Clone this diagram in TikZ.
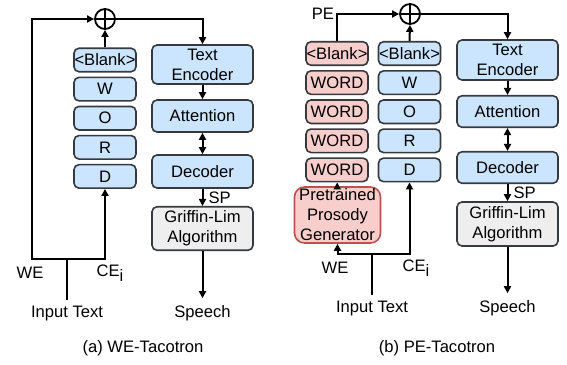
\documentclass[tikz,border=0pt]{standalone}
\usepackage{fontspec}
\setmainfont{Liberation Sans}
\usetikzlibrary{positioning,arrows.meta}
\definecolor{boxblue}{HTML}{CCE5FF}
\definecolor{boxred}{HTML}{F8CECC}
\definecolor{boxgray}{HTML}{EEEEEE}
\definecolor{boxline}{HTML}{36393D}
\definecolor{genline}{HTML}{B85450}
\tikzset{
  box/.style={draw=boxline, line width=0.8pt, rounded corners=2.5pt, align=center, inner sep=0pt},
  tok/.style={box, fill=boxblue, minimum width=31pt, minimum height=11.75pt},
  wtok/.style={box, fill=boxred, minimum width=31pt, minimum height=11.75pt},
  blk/.style={box, fill=boxblue, minimum width=50.5pt},
  gla/.style={box, fill=boxgray, minimum width=50.5pt, minimum height=21.75pt},
  plus/.style={circle, draw, line width=0.9pt, minimum size=10pt, inner sep=0pt,
    path picture={\draw[line width=0.9pt] (path picture bounding box.north) -- (path picture bounding box.south)
      (path picture bounding box.west) -- (path picture bounding box.east);}},
  arr/.style={-{Triangle[length=3.5pt,width=3.5pt]}, line width=1pt},
  darr/.style={{Triangle[length=3.5pt,width=3.5pt]}-{Triangle[length=3.5pt,width=3.5pt]}, line width=1pt},
  lbl/.style={inner sep=1pt}
}
\newcommand{\cei}{CE\raisebox{-2.5pt}{i}}
\begin{document}
\begin{tikzpicture}[x=0.5pt, y=0.5pt, font=\fontsize{8.3}{10}\selectfont]
\useasboundingbox (0,0) rectangle (567,-364);
% (a) WE-Tacotron
\node [plus] (plusa) at (105,-19) {};
\node [tok] (blanka) at (105,-60) {<Blank>};
\node [tok, below=2pt of blanka] (wa) {W};
\node [tok, below=2pt of wa] (oa) {O};
\node [tok, below=2pt of oa] (ra) {R};
\node [tok, below=2pt of ra] (da) {D};
\node [blk, minimum height=19.5pt] (tea) at (202.5,-64.5) {Text\\Encoder};
\node [blk, minimum height=16pt] (atta) at (202.5,-116) {Attention};
\node [blk, minimum height=16.5pt] (deca) at (202.5,-171.5) {Decoder};
\node [gla] (gla) at (202.5,-228.5) {Griffin-Lim\\Algorithm};
\node (speecha) at (202.5,-313) {Speech};
\node (inputa) at (67,-314) {Input Text};
\node [lbl] (wea) at (30,-273) {WE};
\node [lbl] (cea) at (110,-273) {\cei};
\node (capa) at (143,-348) {(a) WE-Tacotron};
\coordinate (ja) at (67,-259);
\coordinate (cornera) at (32,-259);
\draw[line width=1pt] (ja) -- (inputa.north);
\draw[arr] (ja) -- (cornera) |- (plusa.west);
\draw[arr] (ja) -| (da.south);
\draw[arr] (blanka.north) -- (plusa.south);
\draw[arr] (plusa.east) -| (tea.north);
\draw[arr] (tea) -- (atta);
\draw[darr] (atta) -- (deca);
\draw[arr] (deca) -- node[right, lbl, inner xsep=2.5pt]{SP} (gla);
\draw[arr] (gla) -- (speecha);
% (b) PE-Tacotron
\node [plus] (plusb) at (410,-14) {};
\node [wtok] (rblank) at (337,-53.5) {<Blank>};
\node [wtok, below=2pt of rblank] (word1) {WORD};
\node [wtok, below=2pt of word1] (word2) {WORD};
\node [wtok, below=2pt of word2] (word3) {WORD};
\node [wtok, below=2pt of word3] (word4) {WORD};
\node [tok] (blankb) at (409.5,-53.5) {<Blank>};
\node [tok, below=2pt of blankb] (wb) {W};
\node [tok, below=2pt of wb] (ob) {O};
\node [tok, below=2pt of ob] (rb) {R};
\node [tok, below=2pt of rb] (db) {D};
\node [box, fill=boxred, draw=genline, rounded corners=5pt, minimum width=43pt, minimum height=28pt] (gen) at (337.5,-215) {Pretrained\\Prosody\\Generator};
\node [blk, minimum height=20pt] (teb) at (507.5,-60) {Text\\Encoder};
\node [blk, minimum height=15.75pt] (attb) at (507.5,-111.5) {Attention};
\node [blk, minimum height=15.75pt] (decb) at (507.5,-167.5) {Decoder};
\node [gla, minimum height=22pt] (glb) at (507.5,-224) {Griffin-Lim\\Algorithm};
\node (speechb) at (507.5,-308) {Speech};
\node (inputb) at (372,-309) {Input Text};
\node [lbl] (web) at (335,-268) {WE};
\node [lbl] (ceb) at (416,-268) {\cei};
\node (capb) at (437,-348) {(b) PE-Tacotron};
\coordinate (jb) at (372,-254);
\draw[line width=1pt] (jb) -- (inputb.north);
\draw[arr] (jb) -| (gen.south);
\draw[arr] (jb) -| (db.south);
\draw[arr] (gen) -- (word4);
\draw[arr] (rblank.north) |- node[pos=0.5, left, lbl]{PE} (plusb.west);
\draw[arr] (blankb.north) -- (plusb.south);
\draw[arr] (plusb.east) -| (teb.north);
\draw[arr] (teb) -- (attb);
\draw[darr] (attb) -- (decb);
\draw[arr] (decb) -- node[right, lbl, inner xsep=2.5pt]{SP} (glb);
\draw[arr] (glb) -- (speechb);
\end{tikzpicture}
\end{document}
